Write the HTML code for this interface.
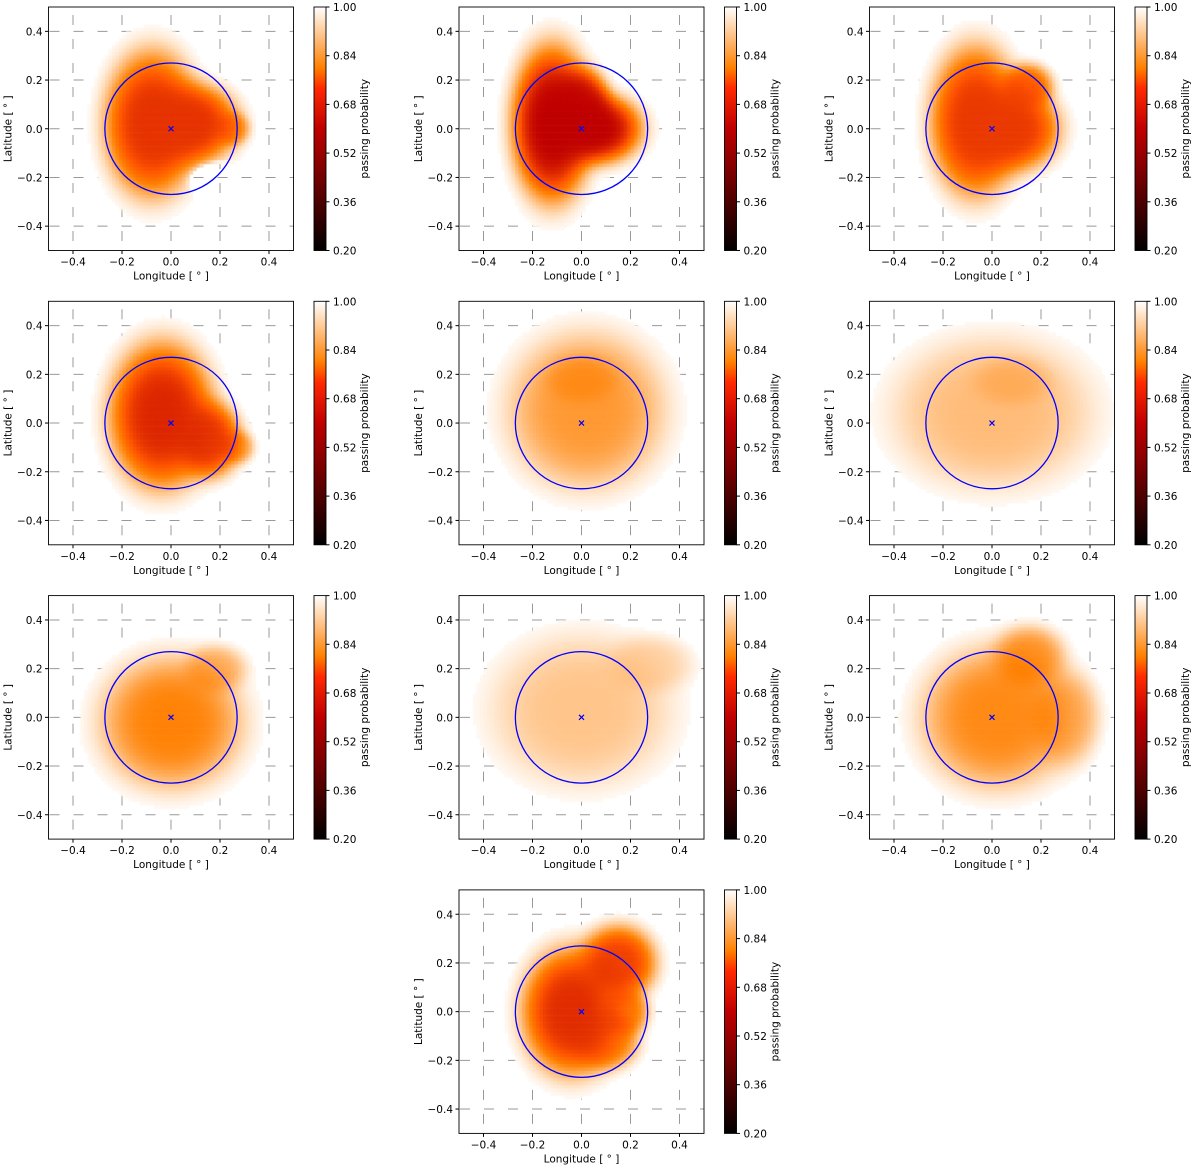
<!DOCTYPE html>
<html><head><meta charset="utf-8">
<style>
body{margin:0;background:#fff;width:1200px;height:1170px;position:relative;overflow:hidden;font-family:"DejaVu Sans","Liberation Sans",sans-serif}
canvas{position:absolute}
svg{position:absolute;left:0;top:0}
text{font-family:"DejaVu Sans","Liberation Sans",sans-serif;font-size:10.5px;fill:#000}
</style></head>
<body>
<svg id="back" width="1200" height="1170"></svg>
<div id="maps"></div>
<svg id="fig" width="1200" height="1170">
<defs>
<linearGradient id="cmap" x1="0" y1="1" x2="0" y2="0">
<stop offset="0" stop-color="#000"/><stop offset="0.333" stop-color="#800000"/><stop offset="0.5" stop-color="#bf0000"/><stop offset="0.667" stop-color="#ff2a00"/><stop offset="0.75" stop-color="#ff8000"/><stop offset="0.875" stop-color="#ffbf80"/><stop offset="1" stop-color="#fff"/>
</linearGradient>
</defs>
</svg>
<script>
const panelCols=[0,1,2,0,1,2,0,1,2,1];
const panelRows=[0,0,0,1,1,1,2,2,2,3];
// blobs per panel: [cx, cy, rx, ry, amplitude]  (data coords; negative amplitude = hole)
const blobs1=[[-0.08,0.02,0.2,0.31,1],[0.08,0.02,0.2,0.17,1],[0.25,0.0,0.07,0.07,0.5],[0.18,-0.21,0.09,0.06,-3]];
const blobs2=[[-0.12,0.02,0.17,0.33,1],[0.05,0.0,0.2,0.15,1],[0.0,0.1,0.12,0.15,0.9]];
const blobs3=[[-0.07,0.03,0.19,0.32,1],[0.08,0.0,0.2,0.18,1],[0.14,0.17,0.11,0.1,0.8]];
const blobs4=[[-0.04,0.03,0.22,0.31,1],[0.15,-0.07,0.14,0.16,0.9],[0.27,-0.1,0.07,0.07,0.4]];
const blobs5=[[0.02,0.05,0.33,0.33,0.8],[0.0,0.18,0.15,0.1,0.6]];
const blobs6=[[0.0,0.04,0.42,0.32,0.7],[0.08,0.17,0.16,0.1,0.6]];
const blobs7=[[0.0,-0.02,0.3,0.28,0.85],[0.18,0.2,0.13,0.1,0.5]];
const blobs8=[[0.0,0.03,0.38,0.32,0.7],[0.28,0.22,0.18,0.12,0.5]];
const blobs9=[[0.02,0.0,0.32,0.3,0.8],[0.15,0.25,0.15,0.13,0.7],[0.3,0.0,0.14,0.2,0.5]];
const blobs10=[[-0.04,0.0,0.21,0.27,1],[0.15,0.2,0.16,0.16,0.9],[0.1,-0.12,0.14,0.12,0.6],[0.18,0.0,0.1,0.1,0.6]];
const panelBlobs=[blobs1,blobs2,blobs3,blobs4,blobs5,blobs6,blobs7,blobs8,blobs9,blobs10];
const panelMin=[0.68,0.6,0.69,0.66,0.8,0.85,0.77,0.87,0.77,0.67];
const xTicks=[-0.4,-0.2,0.0,0.2,0.4];
const yTicks=[-0.4,-0.2,0.0,0.2,0.4];
const cbTicks=[0.20,0.36,0.52,0.68,0.84,1.00];
const circleR=0.27;

const NS="http://www.w3.org/2000/svg";
const svg=document.getElementById('fig');
const back=document.getElementById('back');
function el(tag,attrs,parent){const e=document.createElementNS(NS,tag);for(const k in attrs)e.setAttribute(k,attrs[k]);(parent||svg).appendChild(e);return e;}
function cmap(v){let t=Math.max(0,Math.min(1,(v-0.2)/0.8));const c=x=>Math.round(255*Math.max(0,Math.min(1,x)));return `rgb(${c(1.5*t)},${c(2*t-1)},${c(4*t-3)})`;}
const AW=245,AH=243.5;
panelCols.forEach((col,i)=>{
  const ox=48.5+col*410.5, oy=7+panelRows[i]*294.3;
  const sx=v=>ox+(v+0.5)*AW, sy=v=>oy+(0.5-v)*AH;
  const gb=el('g',{},back);
  
  
  xTicks.forEach(t=>{const l=el('line',{x1:sx(t),x2:sx(t),y1:oy,y2:oy+AH,stroke:'#999','stroke-width':1,'stroke-dasharray':'10,14','stroke-dashoffset':-8},gb);});
  yTicks.forEach(t=>{const l=el('line',{x1:ox,x2:ox+AW,y1:sy(t),y2:sy(t),stroke:'#999','stroke-width':1,'stroke-dasharray':'10,14','stroke-dashoffset':-1},gb);});
  const cv=document.createElement('canvas');
  cv.width=AW;cv.height=Math.round(AH);cv.style.left=ox+'px';cv.style.top=oy+'px';
  
  
  document.getElementById('maps').appendChild(cv);
  const ctx=cv.getContext('2d');const N=70;const cw=AW/N,ch=AH/N;
  for(let a=0;a<N;a++)for(let b=0;b<N;b++){
    const x=-0.5+(a+0.5)/N, y=0.5-(b+0.5)/N;
    let p=1;
    panelBlobs[i].forEach(bl=>{const d=((x-bl[0])/bl[2])**2+((y-bl[1])/bl[3])**2;p*=1-bl[4]*Math.exp(-d*d*1.2);});
    p=Math.max(0,Math.min(1,p));
    const v=1-(1-panelMin[i])*(1-p);
    if(v>0.99)continue;
    ctx.fillStyle=cmap(v);ctx.fillRect(a*cw,b*ch,cw+0.6,ch+0.6);
  }
  const g=el('g',{});
  
  
  const c=el('ellipse',{cx:sx(0),cy:sy(0),rx:circleR*AW,ry:circleR*AH,fill:'none',stroke:'#0000ff','stroke-width':1.3},g);
  
  const m=el('path',{d:`M${sx(0)-2.5},${sy(0)-2.5}l5,5M${sx(0)-2.5},${sy(0)+2.5}l5,-5`,stroke:'#0000ff','stroke-width':1.2},g);
  
  const fr=el('rect',{x:ox,y:oy,width:AW,height:AH,fill:'none',stroke:'#000','stroke-width':0.9},g);
  
  xTicks.forEach(t=>{el('line',{x1:sx(t),x2:sx(t),y1:oy+AH,y2:oy+AH+3.5,stroke:'#000'},g);const tx=el('text',{x:sx(t),y:oy+AH+15,'text-anchor':'middle'},g);tx.textContent=t.toFixed(1).replace('-','\u2212');});
  yTicks.forEach(t=>{el('line',{x1:ox-3.5,x2:ox,y1:sy(t),y2:sy(t),stroke:'#000'},g);const tx=el('text',{x:ox-6,y:sy(t)+4,'text-anchor':'end'},g);tx.textContent=t.toFixed(1).replace('-','\u2212');});
  const xl=el('text',{x:sx(0),y:oy+AH+29,'text-anchor':'middle'},g);xl.textContent='Longitude [ ° ]';
  
  const yl=el('text',{x:ox-37,y:sy(0),'text-anchor':'middle',transform:`rotate(-90 ${ox-37} ${sy(0)})`},g);yl.textContent='Latitude [ ° ]';
  
  const cx=ox+AW+20.5;
  const cb=el('rect',{x:cx,y:oy,width:12,height:AH,fill:'url(#cmap)',stroke:'#000','stroke-width':0.9},g);
  
  cbTicks.forEach(t=>{const yy=oy+(1-(t-0.2)/0.8)*AH;el('line',{x1:cx+12,x2:cx+15.5,y1:yy,y2:yy,stroke:'#000'},g);const tx=el('text',{x:cx+19,y:yy+4},g);tx.textContent=t.toFixed(2);});
  const cl=el('text',{x:cx+54,y:oy+AH/2,'text-anchor':'middle',transform:`rotate(-90 ${cx+54} ${oy+AH/2})`},g);cl.textContent='passing probability';
  
});
</script>
</body></html>
